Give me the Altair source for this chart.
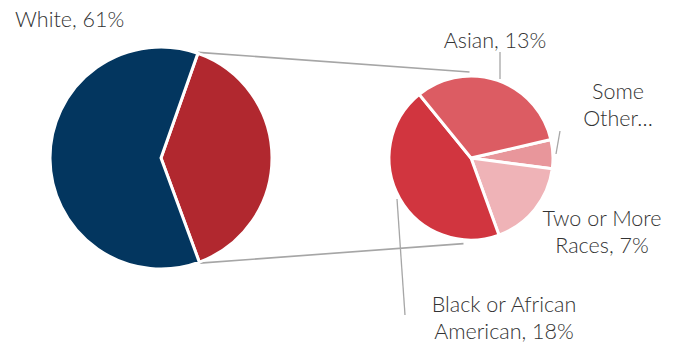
import math
import altair as alt
import pandas as pd

# ---- data ----
main_labels = ["Other races", "White"]
main_values = [39, 61]

sub_labels = ["Some Other Race", "Two or More Races", "Black or African American", "Asian"]
sub_values = [2.3, 7, 18, 13]

label_texts = ["White, 61%", "Asian, 13%", "Some\nOther…", "Two or More\nRaces, 7%",
               "Black or African\nAmerican, 18%"]

# ---- layout / style ----
W, H = 677, 343
MAIN_C = (161, 158)
MAIN_R = 111
MAIN_START = 19.4  # degrees, clockwise from 12 o'clock
SUB_C = (471, 158)
SUB_R = 82
SUB_START = 77.0

colors = {
    "Other races": "#B1282F",
    "White": "#03365F",
    "Some Other Race": "#E8969B",
    "Two or More Races": "#EFB3B7",
    "Black or African American": "#D1353F",
    "Asian": "#DC5C63",
}
FONT = "Lato"
TEXT_COLOR = "#333333"
LINE_COLOR = "#A6A6A6"

label_x = [15, 495, 618, 602, 504]
label_y = [27, 48, 99, 226, 312]
label_align = ["left", "center", "center", "center", "center"]

leader_x = [500, 560, 397]
leader_y = [52, 131, 199]
leader_x2 = [500, 556, 405]
leader_y2 = [79, 154, 315]

color_scale = alt.Scale(domain=list(colors.keys()), range=list(colors.values()))

main_df = pd.DataFrame({"cat": main_labels, "value": main_values, "idx": range(len(main_labels))})
sub_df = pd.DataFrame({"cat": sub_labels, "value": sub_values, "idx": range(len(sub_labels))})


def pie(df, center, r, start_deg):
    s = math.radians(start_deg)
    return alt.Chart(df).mark_arc(radius=r, stroke="white", strokeWidth=3).encode(
        theta=alt.Theta("value:Q", stack=True, scale=alt.Scale(range=[s, s + 2 * math.pi])),
        order=alt.Order("idx:Q"),
        color=alt.Color("cat:N", scale=color_scale, legend=None),
        x=alt.value(center[0]),
        y=alt.value(center[1]),
    )


main_pie = pie(main_df, MAIN_C, MAIN_R, MAIN_START)
sub_pie = pie(sub_df, SUB_C, SUB_R, SUB_START)

# connector lines: from the edges of the "other" wedge to the secondary pie
frac = main_values[0] / sum(main_values)
a1 = math.radians(MAIN_START)
a2 = math.radians(MAIN_START + 360 * frac)
conn_rows = []
for a, b in [(a1, math.radians(-1)), (a2, math.radians(185))]:
    conn_rows.append({
        "x": MAIN_C[0] + (MAIN_R + 1) * math.sin(a),
        "y": MAIN_C[1] - (MAIN_R + 1) * math.cos(a),
        "x2": SUB_C[0] + (SUB_R + 4) * math.sin(b),
        "y2": SUB_C[1] - (SUB_R + 4) * math.cos(b),
    })
conn_df = pd.DataFrame(conn_rows)

leader_df = pd.DataFrame({"x": leader_x, "y": leader_y, "x2": leader_x2, "y2": leader_y2})


def rules(df, width):
    return alt.Chart(df).mark_rule(color=LINE_COLOR, strokeWidth=width).encode(
        x=alt.X("x:Q", scale=None, axis=None),
        y=alt.Y("y:Q", scale=None, axis=None),
        x2="x2:Q",
        y2="y2:Q",
    )


connectors = rules(conn_df, 1.6)
leaders = rules(leader_df, 1.3)

text_layers = []
for t, x, y, al in zip(label_texts, label_x, label_y, label_align):
    tdf = pd.DataFrame({"t": [t], "x": [x], "y": [y]})
    text_layers.append(
        alt.Chart(tdf).mark_text(
            font=FONT, fontSize=21.5, fontWeight=300, color=TEXT_COLOR,
            align=al, baseline="alphabetic", lineBreak="\n", lineHeight=27,
        ).encode(
            x=alt.X("x:Q", scale=None, axis=None),
            y=alt.Y("y:Q", scale=None, axis=None),
            text="t:N",
        )
    )

chart = alt.layer(connectors, leaders, main_pie, sub_pie, *text_layers).resolve_scale(
    theta="independent"
).properties(
    width=W, height=H, autosize="none", padding=0
).configure_view(stroke=None)

chart.save("out.html", embed_options={"renderer": "svg", "actions": False})
